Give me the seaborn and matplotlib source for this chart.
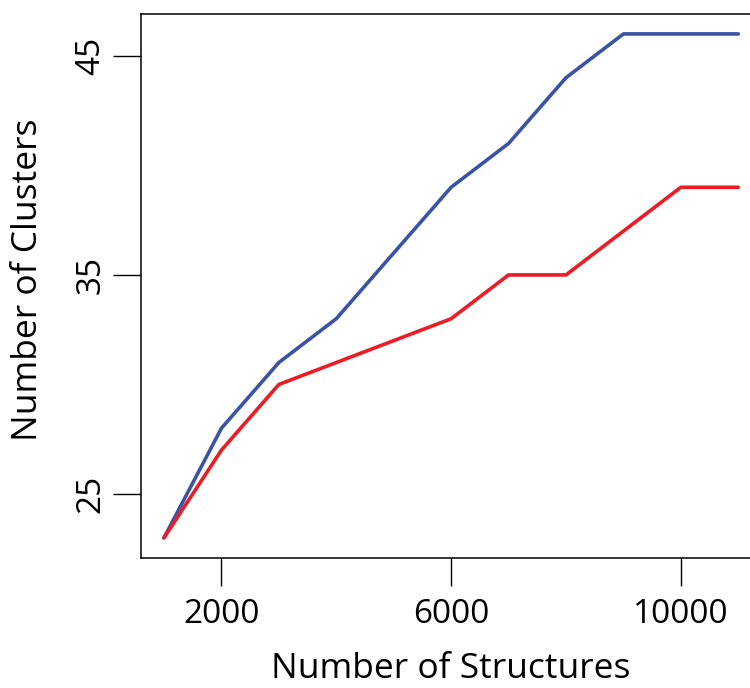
import matplotlib
matplotlib.use("Agg")
import matplotlib.pyplot as plt
import seaborn as sns
import pandas as pd

structures = [1000, 2000, 3000, 4000, 5000, 6000, 7000, 8000, 9000, 10000, 11000]
clusters_blue = [23, 28, 31, 33, 36, 39, 41, 44, 46, 46, 46]
clusters_red = [23, 27, 30, 31, 32, 33, 35, 35, 37, 39, 39]
x_ticks = [2000, 6000, 10000]
y_ticks = [25, 35, 45]

sns.set_theme(style="white")
plt.rcParams['font.family'] = ['Open Sans', 'DejaVu Sans']
plt.rcParams['text.color'] = 'black'
plt.rcParams['axes.labelcolor'] = 'black'
plt.rcParams['xtick.color'] = 'black'
plt.rcParams['ytick.color'] = 'black'

df = pd.DataFrame({
    "Structures": structures * 2,
    "Clusters": clusters_blue + clusters_red,
    "series": ["blue"] * len(structures) + ["red"] * len(structures),
})

fig = plt.figure(figsize=(7.5, 6.88), dpi=100)
ax = fig.add_axes([0.188, 0.189, 0.827, 0.791])
sns.lineplot(data=df, x="Structures", y="Clusters", hue="series",
             palette={"blue": "#3A53A4", "red": "#ED1C24"},
             linewidth=2.6, legend=False, ax=ax)

ax.set_xlim(600, 11400)
ax.set_ylim(22.08, 46.92)
ax.set_xticks(x_ticks)
ax.set_yticks(y_ticks)
ax.set_xticklabels([str(v) for v in x_ticks], fontsize=24, color="black")
ax.set_yticklabels([str(v) for v in y_ticks], fontsize=24, rotation=90, va="center", color="black")
ax.tick_params(axis="both", direction="out", length=20, width=1, color="black",
               bottom=True, left=True)
ax.tick_params(axis="x", pad=9)
ax.tick_params(axis="y", pad=4)
for s in ax.spines.values():
    s.set_color("black")
    s.set_linewidth(1.1)
    s.set_visible(True)

ax.set_xlabel("Number of Structures", fontsize=25.5, color="black")
ax.set_ylabel("Number of Clusters", fontsize=25.5, color="black")
ax.xaxis.set_label_coords(0.5, -0.172, transform=ax.transAxes)
ax.yaxis.set_label_coords(-0.155, 0.512, transform=ax.transAxes)
ax.grid(False)

fig.savefig("out.png", dpi=100)
